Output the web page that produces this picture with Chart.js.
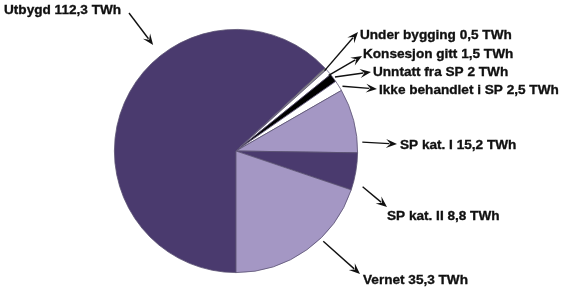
<!DOCTYPE html>
<html>
<head>
<meta charset="utf-8">
<script src="https://cdn.jsdelivr.net/npm/chart.js@4/dist/chart.umd.min.js"></script>
<style>
  html, body { margin: 0; padding: 0; background: #fff; }
  #wrap { width: 567px; height: 290px; position: relative; }
</style>
</head>
<body>
<div id="wrap"><canvas id="myChart" width="567" height="290"></canvas></div>
<script>
const categories = ['Utbygd', 'Under bygging', 'Konsesjon gitt', 'Unntatt fra SP', 'Ikke behandlet i SP', 'SP kat. I', 'SP kat. II', 'Vernet']
const values = [112.3, 0.5, 1.5, 2, 2.5, 15.2, 8.8, 35.3]
const valueLabels = ['112,3', '0,5', '1,5', '2', '2,5', '15,2', '8,8', '35,3']
const unit = 'TWh'

const colors = ['#4a3a6e', '#8a8a8a', '#ffffff', '#000000', '#ffffff', '#a497c4', '#4a3a6e', '#a497c4']

// label layout: text left/baseline, arrow pie end (angle from top, gap beyond radius), arrow label end
const labelLayout = [
  { tx: 4, ty: 14, ang: -38, gap: 13, ex: 129, ey: 13, toPie: true },
  { tx: 360, ty: 39, ang: 47.8, gap: -2, ex: 358, ey: 32 },
  { tx: 363, ty: 58, ang: 50.8, gap: -2, ex: 362, ey: 56 },
  { tx: 373, ty: 76, ang: 53.2, gap: 2, ex: 371, ey: 72 },
  { tx: 379, ty: 94, ang: 58.7, gap: 3, ex: 377, ey: 89 },
  { tx: 400, ty: 149, ang: 86, gap: 5, ex: 397, ey: 144 },
  { tx: 387, ty: 220, ang: 105.8, gap: 10, ex: 387, ey: 207 },
  { tx: 363, ty: 284, ang: 136, gap: 4, ex: 360, ey: 274 }
]

function arrow (ctx, x1, y1, x2, y2) {
  const a = Math.atan2(y2 - y1, x2 - x1)
  const hl = 11
  const hw = 4.5
  ctx.beginPath()
  ctx.moveTo(x1, y1)
  ctx.lineTo(x2 - Math.cos(a) * hl * 0.7, y2 - Math.sin(a) * hl * 0.7)
  ctx.stroke()
  ctx.beginPath()
  ctx.moveTo(x2, y2)
  ctx.lineTo(x2 - Math.cos(a) * hl - Math.sin(a) * hw, y2 - Math.sin(a) * hl + Math.cos(a) * hw)
  ctx.lineTo(x2 - Math.cos(a) * hl * 0.6, y2 - Math.sin(a) * hl * 0.6)
  ctx.lineTo(x2 - Math.cos(a) * hl + Math.sin(a) * hw, y2 - Math.sin(a) * hl - Math.cos(a) * hw)
  ctx.closePath()
  ctx.fill()
}

const calloutPlugin = {
  id: 'callouts',
  afterDraw (chart) {
    const ctx = chart.ctx
    const arcs = chart.getDatasetMeta(0).data
    ctx.save()
    ctx.fillStyle = '#111'
    ctx.strokeStyle = '#111'
    ctx.lineWidth = 1.4
    ctx.font = 'bold 13.6px "Liberation Sans", Arial, sans-serif'
    ctx.textBaseline = 'alphabetic'
    arcs.forEach((arc, i) => {
      const l = labelLayout[i]
      const r = arc.outerRadius + l.gap
      const a = (l.ang - 90) * Math.PI / 180
      const px = arc.x + Math.cos(a) * r
      const py = arc.y + Math.sin(a) * r
      if (l.toPie) arrow(ctx, l.ex, l.ey, px, py)
      else arrow(ctx, px, py, l.ex, l.ey)
      const txt = categories[i] + ' ' + valueLabels[i] + ' ' + unit
      ctx.fillText(txt, l.tx, l.ty)
      ctx.lineWidth = 0.35
      ctx.strokeText(txt, l.tx, l.ty)
      ctx.lineWidth = 1.4
    })
    ctx.restore()
  }
}

new Chart(document.getElementById('myChart').getContext('2d'), {
  type: 'pie',
  data: {
    labels: categories,
    datasets: [{
      data: values,
      backgroundColor: colors,
      borderColor: '#5b5272',
      borderWidth: 0.8
    }]
  },
  options: {
    responsive: false,
    animation: false,
    rotation: 180,
    layout: { padding: { left: 114, right: 209, top: 29, bottom: 17 } },
    plugins: { legend: { display: false }, tooltip: { enabled: false } }
  },
  plugins: [calloutPlugin]
})
</script>
</body>
</html>
